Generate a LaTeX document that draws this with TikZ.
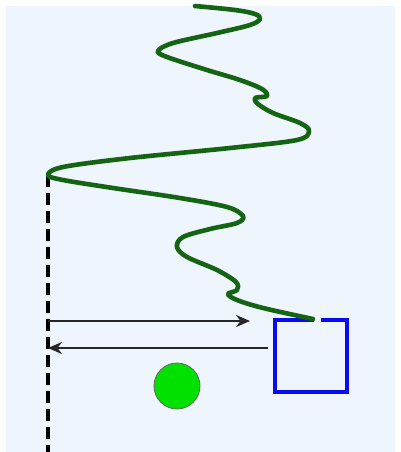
\documentclass[tikz,border=0pt]{standalone}
\usepackage{xcolor}
\usepackage{tikz}
\usetikzlibrary{arrows.meta}
\definecolor{bgcol}{RGB}{238,245,253}
\definecolor{wavecol}{RGB}{20,100,20}
\definecolor{boxcol}{RGB}{10,10,240}
\definecolor{ballcol}{RGB}{0,225,0}

\begin{document}
\begin{tikzpicture}[x=0.5pt, y=-0.5pt,
    boxsq/.style={draw=boxcol, line width=2pt, minimum size=36pt, inner sep=0pt},
    ball/.style={circle, fill=ballcol, draw=black!60, thin, minimum size=23pt, inner sep=0pt},
    ray/.style={black!85, line width=1pt, -{Stealth[length=7pt, width=6pt]}}]

    %% Frame
    \useasboundingbox (0,0) rectangle (401,452);
    \fill[white] (0,0) rectangle (401,452);
    \fill[bgcol] (6,6) rectangle (395,452);

    %% Mirror line (dashed)
    \coordinate (top) at (48,175);
    \coordinate (bottom) at (48,452);
    \draw[black, line width=1.9pt, dash pattern=on 6pt off 3pt] (top) -- (bottom);

    %% Box, with a gap where the wave comes in
    \node[boxsq] (box) at (311,355.5) {};
    \fill[bgcol] (314,314) rectangle (321,322);

    %% Wave
    \draw[wavecol, line width=2.3pt, line cap=round, line join=round]
      plot[smooth, tension=0.55] coordinates {
        (195,6) (235,10) (255,14) (260,19) (250,25) (217,33) (173,43)
        (158,51) (167,57) (207,70) (240,80) (262,89) (267,96) (255,98)
        (258,104) (273,113) (300,123) (309,131) (297,140) (230,148)
        (130,158) (63,167) (48,175) (63,180) (113,188) (180,198)
        (227,207) (243,216) (237,223) (210,229) (183,237) (177,247)
        (187,257) (217,270) (236,282) (237,290) (228,294) (237,300)
        (263,308) (313,319)};

    %% Rays
    \coordinate (out) at (48,321);
    \coordinate (hit) at (250,321);
    \coordinate (back) at (268,348);
    \coordinate (foot) at (48,348);
    \draw[ray] (out) -- (hit);
    \draw[ray] (back) -- (foot);

    %% Ball
    \node[ball] (ball) at (177,386) {};

  \end{tikzpicture}
\end{document}
